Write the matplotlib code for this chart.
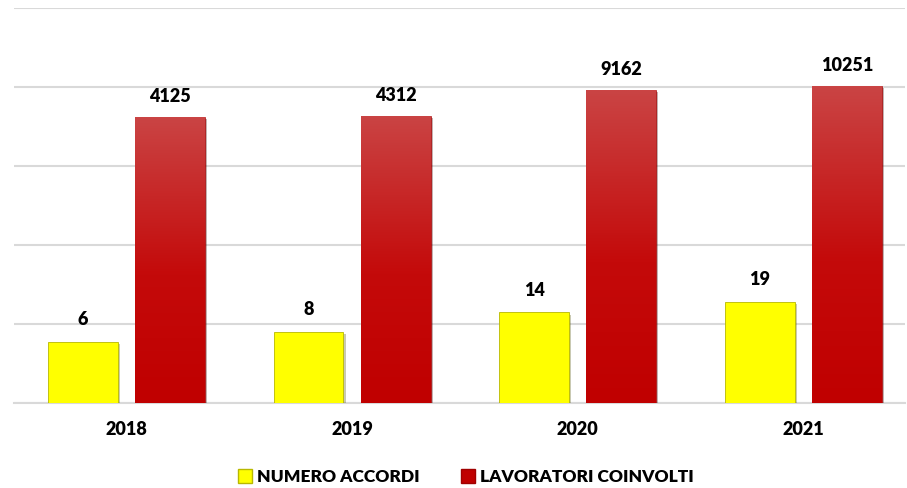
import numpy as np
import matplotlib
matplotlib.use("Agg")
import matplotlib.pyplot as plt
import matplotlib.patheffects as pe
from matplotlib.patches import Patch

plt.rcParams["font.family"] = ["Lato", "DejaVu Sans"]
plt.rcParams["font.weight"] = "heavy"

years = ["2018", "2019", "2020", "2021"]
accordi = [6, 8, 14, 19]
lavoratori = [4125, 4312, 9162, 10251]

YELLOW = "#FFFF00"
RED = "#C00000"
GRID = "#D9D9D9"

fig = plt.figure(figsize=(9.07, 4.88), dpi=100)
ax = fig.add_axes([13.5 / 907, (488 - 403) / 488, (905 - 13.5) / 907, (403 - 8) / 488])

x = np.arange(len(years))
width = 0.31
offset = 0.193

ax.set_yscale("log", nonpositive="clip")
ax.set_ylim(1, 100000)
ax.set_xlim(-0.5, 3.45)

shadow = [pe.SimplePatchShadow(offset=(1.5, -1.5), alpha=0.3), pe.Normal()]

bars_y = ax.bar(x - offset, accordi, width, color=YELLOW,
                edgecolor="#B8B800", linewidth=0.6, zorder=3)
bars_r = ax.bar(x + offset, lavoratori, width, color=RED,
                edgecolor="#A00000", linewidth=0.4, zorder=3)
for b in list(bars_y) + list(bars_r):
    b.set_path_effects(shadow)
ax.set_ylim(1, 100000)

# vertical gradient on the red bars
grad = np.linspace(0, 1, 256).reshape(-1, 1)
cmap = matplotlib.colors.LinearSegmentedColormap.from_list(
    "r", [(0, "#C00000"), (0.45, "#C40A0A"), (1, "#CA4444")])
x0, x1 = ax.get_xlim()
for b, v in zip(bars_r, lavoratori):
    left = (b.get_x() - x0) / (x1 - x0)
    right = (b.get_x() + b.get_width() - x0) / (x1 - x0)
    top = np.log10(v) / 5
    im = ax.imshow(grad, cmap=cmap, origin="lower", aspect="auto",
                   extent=[left, right, 0, top], transform=ax.transAxes, zorder=4)
    im.set_clip_path(b)

for xi, v in zip(x - offset, accordi):
    ax.annotate(str(v), (xi, v), xytext=(0, 16), textcoords="offset points",
                ha="center", va="center", fontsize=13, fontweight="heavy")
for xi, v in zip(x + offset, lavoratori):
    ax.annotate(str(v), (xi, v), xytext=(0, 15), textcoords="offset points",
                ha="center", va="center", fontsize=13, fontweight="heavy")

ax.yaxis.set_major_locator(matplotlib.ticker.LogLocator(base=10, numticks=10))
ax.yaxis.set_minor_locator(matplotlib.ticker.NullLocator())
ax.grid(axis="y", color=GRID, linewidth=1.5, zorder=0)
ax.set_axisbelow(True)
ax.tick_params(axis="y", left=False, labelleft=False)
ax.tick_params(axis="x", length=0, pad=13, labelsize=13)
ax.set_xticks(x)
ax.set_xticklabels(years, fontweight="heavy")
for s in ["left", "right", "top"]:
    ax.spines[s].set_visible(False)
ax.spines["bottom"].set_color(GRID)
ax.spines["bottom"].set_linewidth(1.5)

handles = [Patch(facecolor=YELLOW, edgecolor="#B8B800", label="NUMERO ACCORDI"),
           Patch(facecolor=RED, edgecolor="#A00000", label="LAVORATORI COINVOLTI")]
fig.legend(handles=handles, loc="center", bbox_to_anchor=(466 / 907, 1 - 477 / 488),
           ncol=2, frameon=False, prop={"size": 12.5, "weight": "heavy"},
           handlelength=0.8, handleheight=0.8, handletextpad=0.3, columnspacing=2.4)

fig.savefig("out.png", dpi=100)
